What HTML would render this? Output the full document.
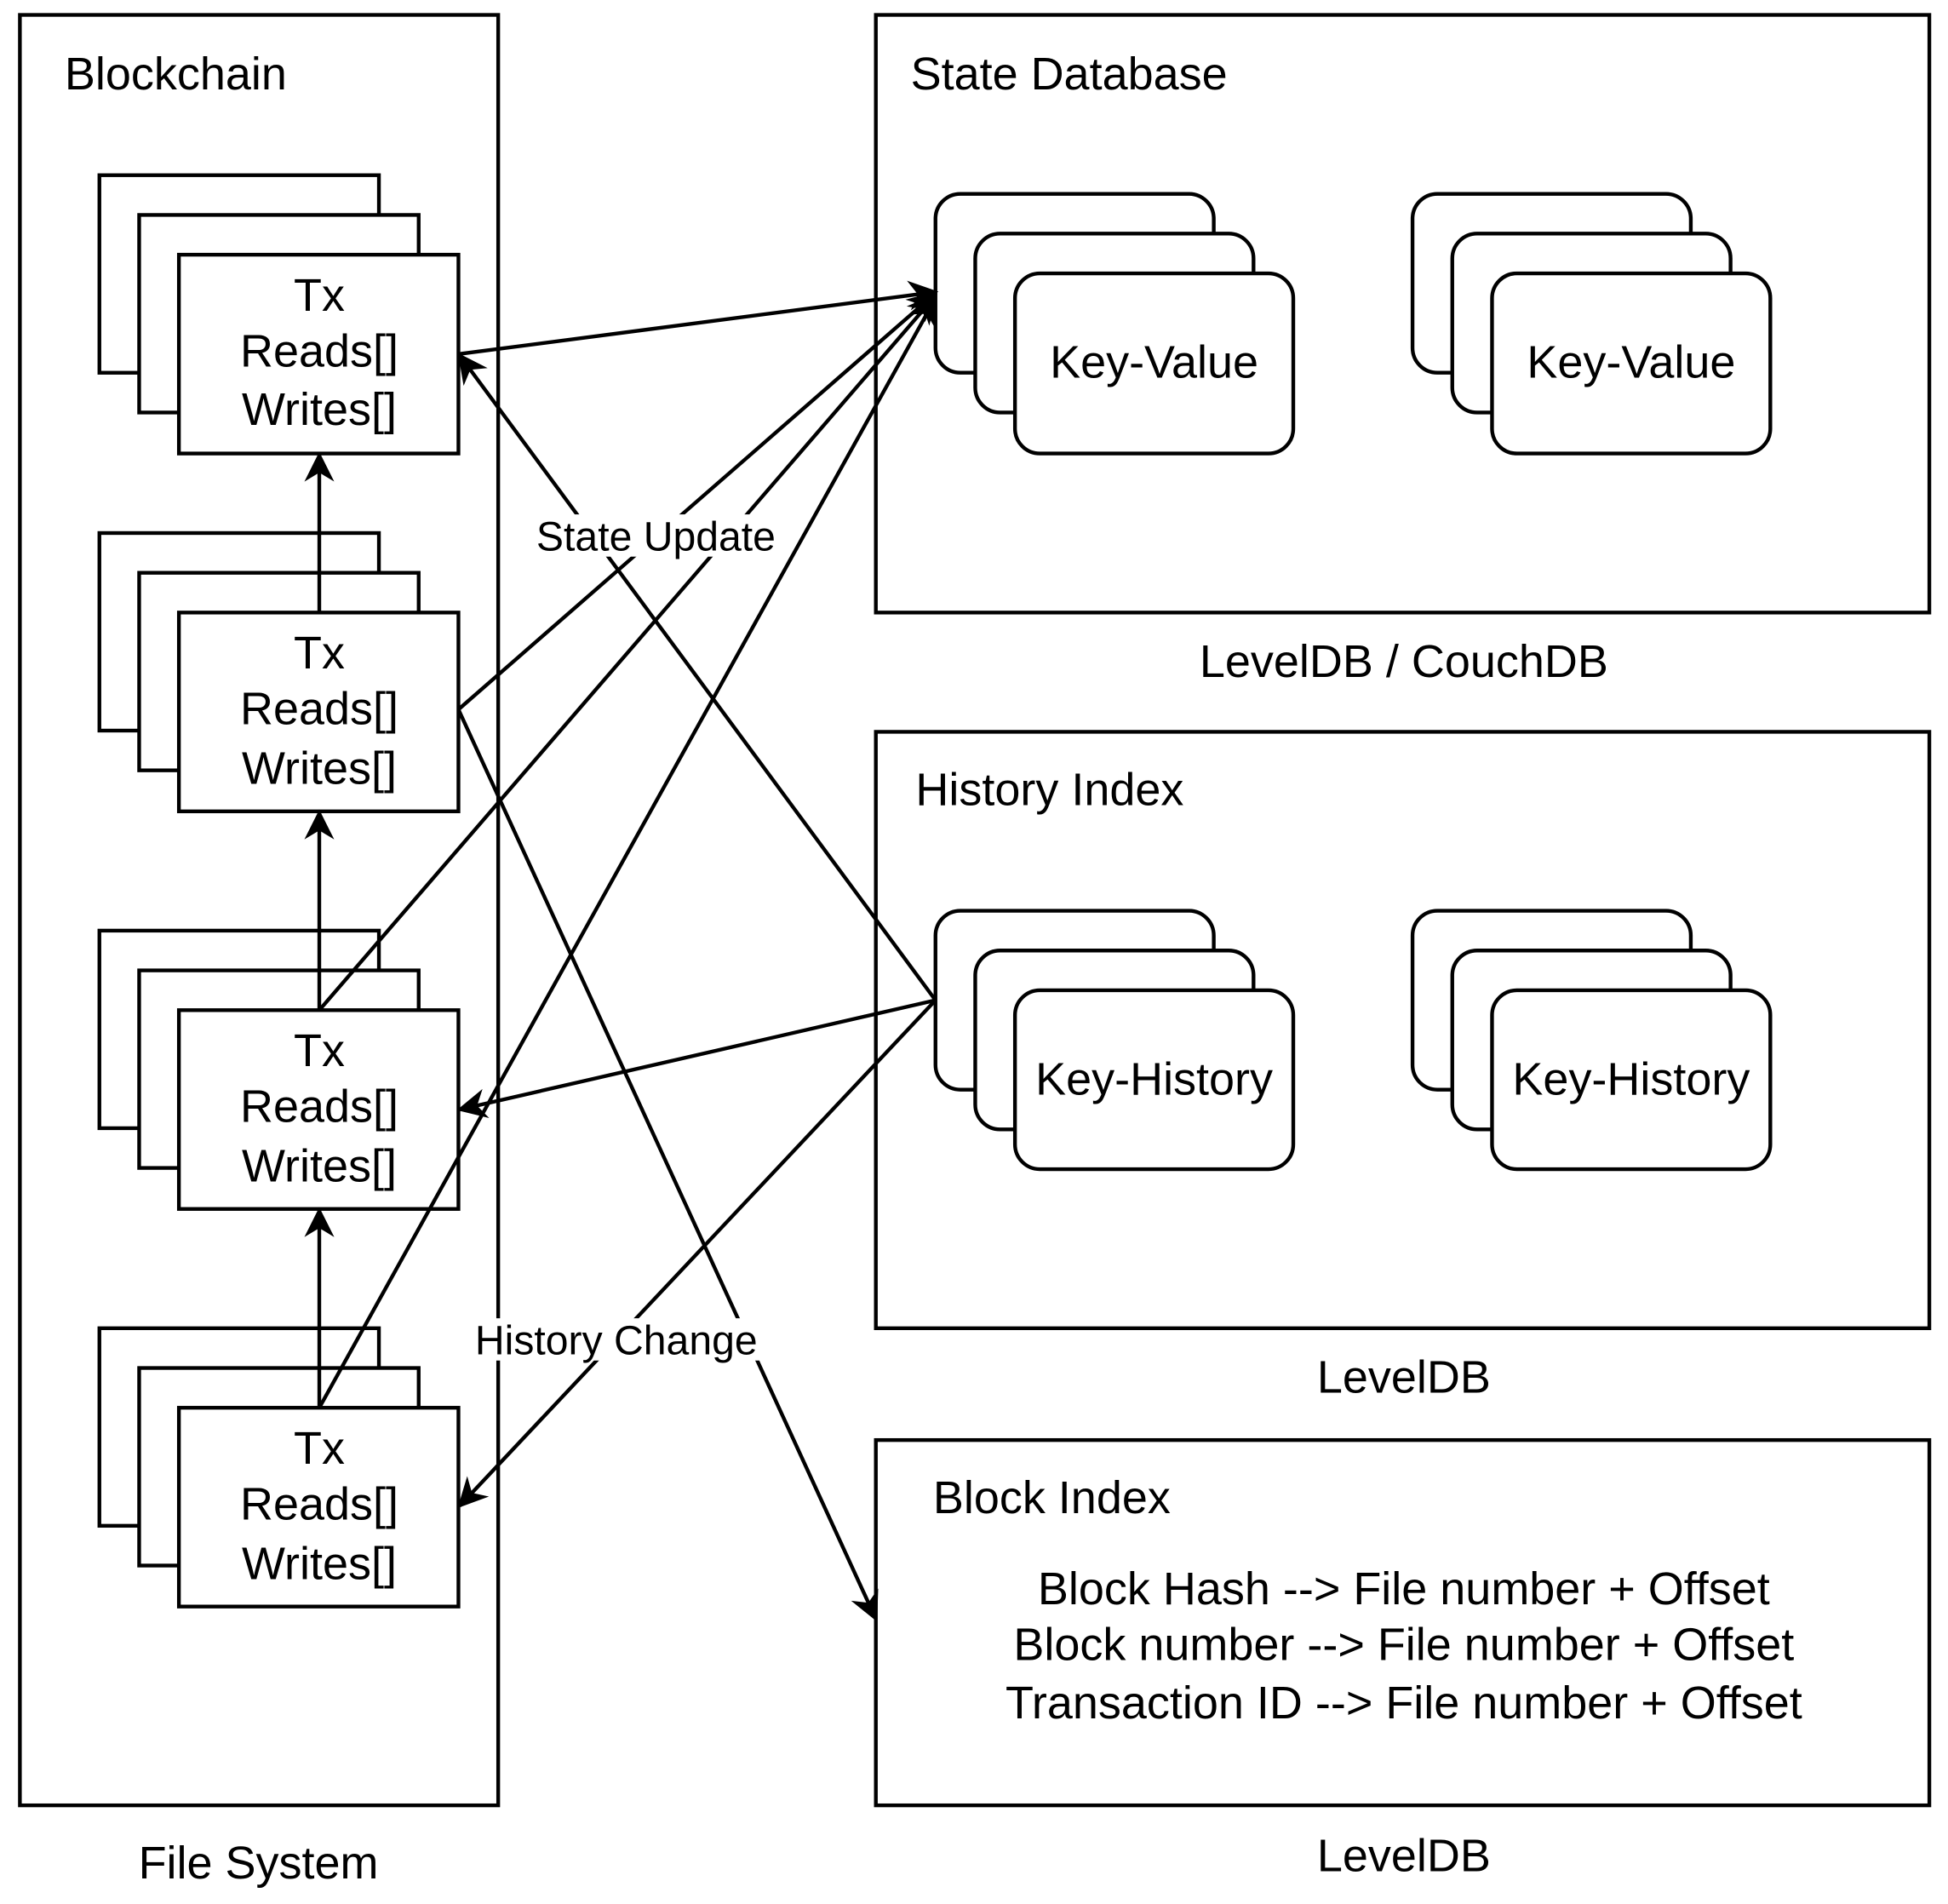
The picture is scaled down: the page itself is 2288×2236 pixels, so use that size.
<!DOCTYPE html>
<html><head><meta charset="utf-8"><style>
html,body{margin:0;padding:0;background:#fff}
svg{display:block}
</style></head><body>
<svg width="2288" height="2236" viewBox="0 0 1568 1532.4" xmlns="http://www.w3.org/2000/svg" font-family="'Liberation Sans', Arial, Helvetica, sans-serif">
<defs>
<marker id="a" viewBox="0 0 20 20" refX="18" refY="10" markerWidth="26" markerHeight="24" markerUnits="userSpaceOnUse" orient="auto">
<path d="M0,0 L20,10 L0,20 L6,10 Z" fill="#000"/>
</marker>
</defs>
<g fill="#fff" stroke="#000" stroke-width="3">
<rect x="16" y="12" width="385" height="1441"/>
<rect x="705" y="12" width="848" height="481"/>
<rect x="705" y="589" width="848" height="480"/>
<rect x="705" y="1159" width="848" height="294"/>
</g>
<g font-size="37">
<text x="52" y="72">Blockchain</text>
<text x="733" y="72">State Database</text>
<text x="737" y="648">History Index</text>
<text x="751" y="1218">Block Index</text>
</g>
<g font-size="37" text-anchor="middle">
<text x="1130" y="545">LevelDB / CouchDB</text>
<text x="1130" y="1121">LevelDB</text>
<text x="1130" y="1506">LevelDB</text>
<text x="208" y="1512">File System</text>
<text x="1130" y="1291">Block Hash --&gt; File number +  Offset</text>
<text x="1130" y="1336">Block number --&gt; File number + Offset</text>
<text x="1130" y="1383">Transaction ID --&gt; File number + Offset</text>
</g>
<g fill="#fff" stroke="#000" stroke-width="3">
<rect x="80" y="141" width="225" height="159"/><rect x="112" y="173" width="225" height="159"/><rect x="144" y="205" width="225" height="160"/>
<rect x="80" y="429" width="225" height="159"/><rect x="112" y="461" width="225" height="159"/><rect x="144" y="493" width="225" height="160"/>
<rect x="80" y="749" width="225" height="159"/><rect x="112" y="781" width="225" height="159"/><rect x="144" y="813" width="225" height="160"/>
<rect x="80" y="1069" width="225" height="159"/><rect x="112" y="1101" width="225" height="159"/><rect x="144" y="1133" width="225" height="160"/>
</g>
<g font-size="37" text-anchor="middle">
<text x="257" y="250">Tx</text><text x="257" y="295">Reads[]</text><text x="257" y="342">Writes[]</text>
<text x="257" y="538">Tx</text><text x="257" y="583">Reads[]</text><text x="257" y="631">Writes[]</text>
<text x="257" y="858">Tx</text><text x="257" y="903">Reads[]</text><text x="257" y="951">Writes[]</text>
<text x="257" y="1178">Tx</text><text x="257" y="1223">Reads[]</text><text x="257" y="1271">Writes[]</text>
</g>
<g fill="#fff" stroke="#000" stroke-width="3">
<rect x="753" y="156" width="224" height="144" rx="20"/><rect x="785" y="188" width="224" height="144" rx="20"/><rect x="817" y="220" width="224" height="145" rx="20"/>
<rect x="1137" y="156" width="224" height="144" rx="20"/><rect x="1169" y="188" width="224" height="144" rx="20"/><rect x="1201" y="220" width="224" height="145" rx="20"/>
<rect x="753" y="733" width="224" height="144" rx="20"/><rect x="785" y="765" width="224" height="144" rx="20"/><rect x="817" y="797" width="224" height="144" rx="20"/>
<rect x="1137" y="733" width="224" height="144" rx="20"/><rect x="1169" y="765" width="224" height="144" rx="20"/><rect x="1201" y="797" width="224" height="144" rx="20"/>
</g>
<g font-size="37" text-anchor="middle">
<text x="929" y="304">Key-Value</text><text x="1313" y="304">Key-Value</text>
<text x="929" y="881">Key-History</text><text x="1313" y="881">Key-History</text>
</g>
<g stroke="#000" stroke-width="3" fill="none" marker-end="url(#a)">
<line x1="257" y1="493" x2="257" y2="366"/>
<line x1="257" y1="813" x2="257" y2="654"/>
<line x1="257" y1="1133" x2="257" y2="974"/>
<line x1="369" y1="285" x2="753" y2="235"/>
<line x1="753" y1="805" x2="370" y2="286"/>
<line x1="369" y1="571" x2="753" y2="236"/>
<line x1="257" y1="813" x2="753" y2="238"/>
<line x1="257" y1="1133" x2="753" y2="240"/>
<line x1="369" y1="571" x2="705" y2="1303"/>
<line x1="753" y1="805" x2="370" y2="893"/>
<line x1="753" y1="805" x2="370" y2="1212"/>
</g>
<g font-size="33" text-anchor="middle">
<rect x="424" y="414" width="208" height="34" fill="#fff"/>
<text x="528" y="443">State Update</text>
<rect x="375" y="1061" width="243" height="34" fill="#fff"/>
<text x="496" y="1090">History Change</text>
</g>
</svg>
</body></html>
